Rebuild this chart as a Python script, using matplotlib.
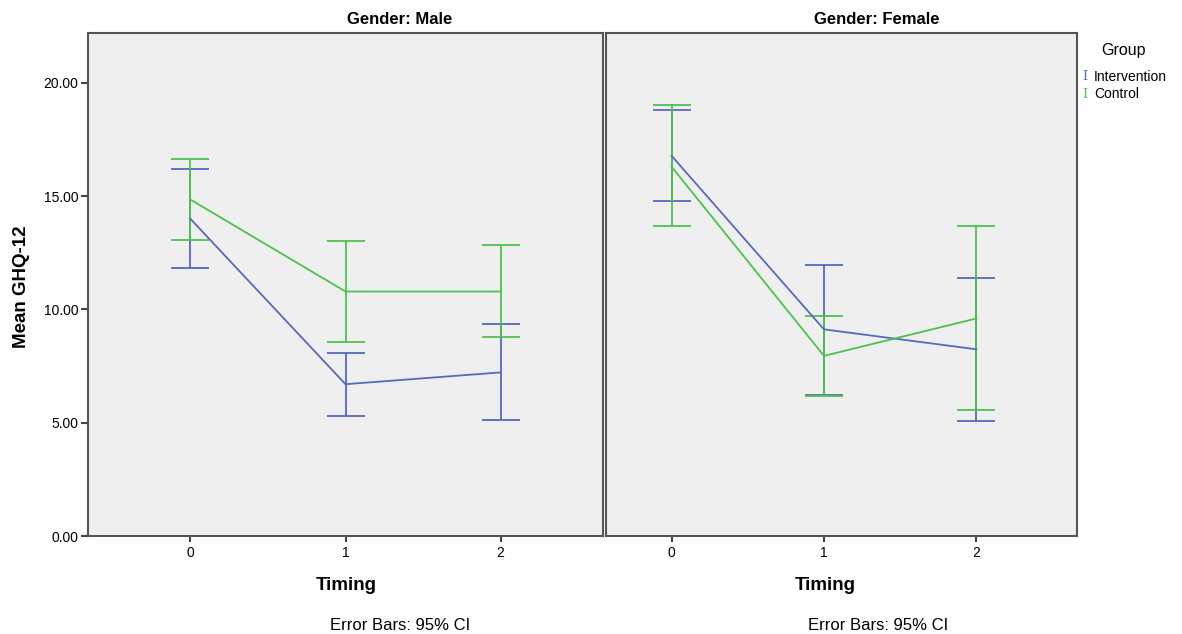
import numpy as np
import matplotlib
matplotlib.use("Agg")
import matplotlib.pyplot as plt

plt.rcParams['font.family'] = ['Liberation Sans', 'DejaVu Sans']

timing = [0, 1, 2]
groups = ['Intervention', 'Control']
colors = {'Intervention': '#5868bd', 'Control': '#4cc24c'}

# mean and 95% CI bounds
male_mean = {'Intervention': [14.0, 6.7, 7.22], 'Control': [14.85, 10.79, 10.79]}
male_low = {'Intervention': [11.85, 5.29, 5.11], 'Control': [13.08, 8.55, 8.77]}
male_high = {'Intervention': [16.2, 8.06, 9.34], 'Control': [16.65, 13.0, 12.86]}

female_mean = {'Intervention': [16.78, 9.12, 8.24], 'Control': [16.3, 7.95, 9.6]}
female_low = {'Intervention': [14.8, 6.22, 5.07], 'Control': [13.66, 6.17, 5.55]}
female_high = {'Intervention': [18.81, 11.98, 11.4], 'Control': [19.03, 9.71, 13.66]}

W, H = 1182, 634
fig = plt.figure(figsize=(W / 100, H / 100), dpi=100)

def fx(px):
    return px / W

def fy(py):
    return 1 - py / H

ax1 = fig.add_axes([fx(88), fy(536), fx(603 - 88), (536 - 33) / H])
ax2 = fig.add_axes([fx(606), fy(536), fx(1077 - 606), (536 - 33) / H])

panels = [
    (ax1, male_mean, male_low, male_high, (-0.66, 2.66)),
    (ax2, female_mean, female_low, female_high, (-0.43, 2.66)),
]

for ax, mean, low, high, xl in panels:
    ax.set_facecolor('#efefef')
    for g in groups:
        m = np.array(mean[g])
        lo = np.array(low[g])
        hi = np.array(high[g])
        ax.errorbar(timing, m, yerr=[m - lo, hi - m], color=colors[g],
                    lw=1.3, elinewidth=1.3, capsize=13.7, capthick=1.3)
    ax.set_xlim(*xl)
    ax.set_ylim(0, 22.2)
    ax.set_xticks(timing)
    ax.set_xticklabels([str(t) for t in timing], fontsize=10)
    for s in ax.spines.values():
        s.set_color('#555555')
        s.set_linewidth(1.5)
    ax.tick_params(axis='x', direction='out', length=4, width=1.5, color='#444444', pad=3)

ax1.set_yticks([0, 5, 10, 15, 20])
ax1.set_yticklabels(['%.2f' % v for v in [0, 5, 10, 15, 20]], fontsize=10)
ax1.tick_params(axis='y', direction='out', length=5, width=1.5, color='#444444', pad=2)
ax2.set_yticks([])

# panel titles and axis labels
fig.text(fx(400), fy(19), 'Gender: Male', ha='center', va='center', fontsize=12, fontweight='bold')
fig.text(fx(877), fy(19), 'Gender: Female', ha='center', va='center', fontsize=12, fontweight='bold')
fig.text(fx(346), fy(585), 'Timing', ha='center', va='center', fontsize=13.5, fontweight='bold')
fig.text(fx(825), fy(585), 'Timing', ha='center', va='center', fontsize=13.5, fontweight='bold')
fig.text(fx(400), fy(626), 'Error Bars: 95% CI', ha='center', va='center', fontsize=12)
fig.text(fx(878), fy(626), 'Error Bars: 95% CI', ha='center', va='center', fontsize=12)
fig.text(fx(22), fy(287), 'Mean GHQ-12', ha='center', va='center', rotation=90,
         fontsize=13.5, fontweight='bold')

# legend
fig.text(fx(1124), fy(50), 'Group', ha='center', va='center', fontsize=11.5)
for i, g in enumerate(groups):
    yy = 77 + 17 * i
    fig.text(fx(1085), fy(yy), 'I', ha='center', va='center', fontsize=9,
             color=colors[g], family='DejaVu Serif')
    fig.text(fx(1094), fy(yy), g, ha='left', va='center', fontsize=10)

fig.savefig('out.png', dpi=100)
